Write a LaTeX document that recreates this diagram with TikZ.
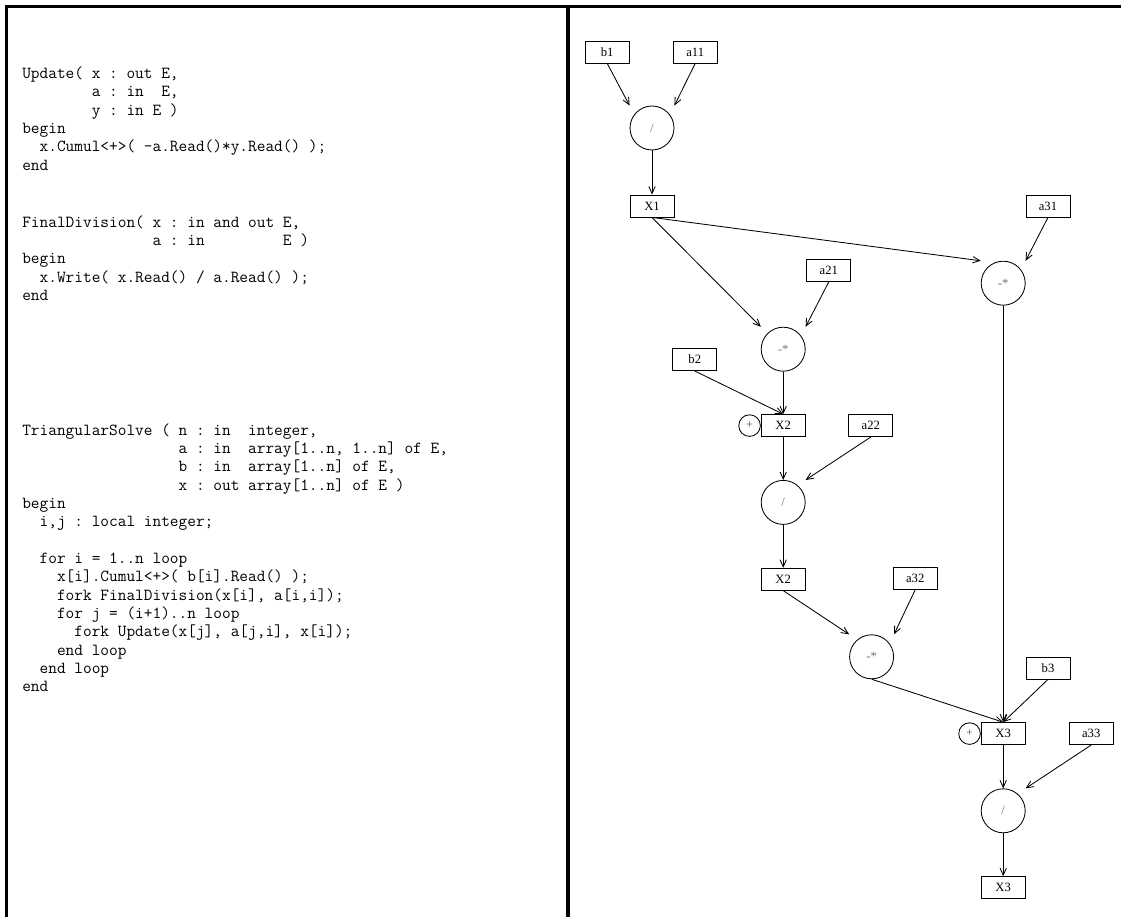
\documentclass[tikz,border=0pt]{standalone}
\usepackage{fontspec}
\setmainfont{Liberation Serif}
\usetikzlibrary{arrows.meta, calc, positioning}
\tikzstyle{var} = [draw, line width=0.6pt, inner sep=0,
    minimum width=1.1cm, minimum height=0.55cm,
    font=\fontsize{9}{11}\selectfont]
\tikzstyle{oper} = [draw, circle, line width=0.6pt, inner sep=0,
    minimum size=1.1cm, text=black!55, font=\fontsize{9}{11}\selectfont]
\tikzstyle{accum} = [draw, circle, line width=0.6pt, inner sep=0,
    minimum size=0.54cm, text=black!70, font=\fontsize{8.5}{10}\selectfont]
\tikzstyle{flow} = [line width=0.6pt, -{Straight Barb[length=5pt,width=4.5pt]}]
\tikzstyle{code} = [inner sep=0, anchor=north west,
    font=\ttfamily\fontsize{12}{13.05}\selectfont\frenchspacing]
\tikzstyle{frame} = [line width=2.2pt]

\begin{document}
\begin{tikzpicture}
\useasboundingbox (0,0) rectangle (28.025,-22.925);

% 1. Frame of the two panels
\draw[frame] (0.17,-22.925) -- (0.17,-0.17) -- (28.025,-0.17);
\draw[frame] (14.2,-0.17) -- (14.2,-22.925);

%%% CODE
\node[code] (update) at (0.55,-1.63) {\begin{tabular}{@{}l@{}}
Update( x : out E,\\
~~~~~~~~a : in~~E,\\
~~~~~~~~y : in E )\\
begin\\
~~x.Cumul<+>( -a.Read()*y.Read() );\\
end
\end{tabular}};

\node[code] (finaldiv) at (0.55,-5.35) {\begin{tabular}{@{}l@{}}
FinalDivision( x : in and out E,\\
~~~~~~~~~~~~~~~a : in~~~~~~~~~E )\\
begin\\
~~x.Write( x.Read() / a.Read() );\\
end
\end{tabular}};

\node[code] (solve) at (0.55,-10.55) {\begin{tabular}{@{}l@{}}
TriangularSolve ( n : in~~integer,\\
~~~~~~~~~~~~~~~~~~a : in~~array[1..n, 1..n] of E,\\
~~~~~~~~~~~~~~~~~~b : in~~array[1..n] of E,\\
~~~~~~~~~~~~~~~~~~x : out array[1..n] of E )\\
begin\\
~~i,j : local integer;\\
\\
~~for i = 1..n loop\\
~~~~x[i].Cumul<+>( b[i].Read() );\\
~~~~fork FinalDivision(x[i], a[i,i]);\\
~~~~for j = (i+1)..n loop\\
~~~~~~fork Update(x[j], a[j,i], x[i]);\\
~~~~end loop\\
~~end loop\\
end
\end{tabular}};

%%% GRAPH
% first unknown
\node[var] (b1) at (15.18,-1.30) {b1};
\node[var] (a11) at (17.38,-1.30) {a11};
\node[oper] (div1) at (16.30,-3.20) {/};
\node[var] (x1) at (16.30,-5.15) {X1};

% second unknown
\node[var] (a21) at (20.72,-6.76) {a21};
\node[oper] (mul21) at (19.58,-8.73) {-*};
\node[var] (b2) at (17.37,-8.99) {b2};
\node[var] (x2) at (19.58,-10.64) {X2};
\node[accum, left=0pt of x2] (acc2) {+};
\node[var] (a22) at (21.77,-10.64) {a22};
\node[oper] (div2) at (19.58,-12.56) {/};
\node[var] (x2b) at (19.58,-14.48) {X2};

% third unknown
\node[var] (a31) at (26.20,-5.15) {a31};
\node[oper] (mul31) at (25.08,-7.08) {-*};
\node[var] (a32) at (22.88,-14.46) {a32};
\node[oper] (mul32) at (21.79,-16.42) {-*};
\node[var] (b3) at (26.20,-16.70) {b3};
\node[var] (x3) at (25.08,-18.34) {X3};
\node[accum, left=0pt of x3] (acc3) {+};
\node[var] (a33) at (27.28,-18.34) {a33};
\node[oper] (div3) at (25.08,-20.27) {/};
\node[var] (x3b) at (25.08,-22.19) {X3};

% connectors
\draw[flow] (b1.south) -- (div1.west |- div1.north);
\draw[flow] (a11.south) -- (div1.east |- div1.north);
\draw[flow] (div1) -- (x1);
\draw[flow] (x1.south) -- (mul21.west |- mul21.north);
\draw[flow] (x1.south) -- (mul31.west |- mul31.north);
\draw[flow] (a21.south) -- (mul21.east |- mul21.north);
\draw[flow] (a31.south) -- (mul31.east |- mul31.north);
\draw[flow] (mul21) -- (x2);
\draw[flow] (b2.south) -- (x2.north);
\draw[flow] (x2) -- (div2);
\draw[flow] (a22.south) -- (div2.east |- div2.north);
\draw[flow] (div2) -- (x2b);
\draw[flow] (x2b.south) -- (mul32.west |- mul32.north);
\draw[flow] (a32.south) -- (mul32.east |- mul32.north);
\draw[flow] (mul32.south) -- (x3.north);
\draw[flow] (mul31) -- (x3);
\draw[flow] (b3.south) -- (x3.north);
\draw[flow] (x3) -- (div3);
\draw[flow] (a33.south) -- (div3.east |- div3.north);
\draw[flow] (div3) -- (x3b);

\end{tikzpicture}
\end{document}
